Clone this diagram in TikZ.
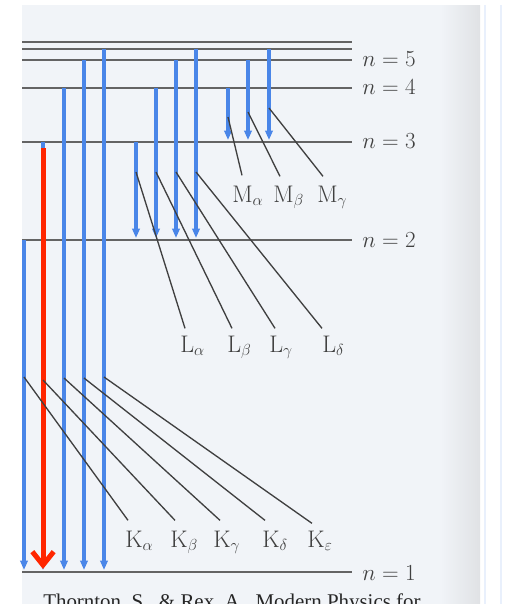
\documentclass[tikz,border=0pt]{standalone}
\usepackage{fontspec}
\usepackage{tikz}
\usetikzlibrary{positioning,calc,arrows.meta}
\newfontfamily\capfont{Liberation Serif}
\definecolor{pagebg}{RGB}{241,244,248}
\definecolor{pageedge}{RGB}{224,226,229}
\definecolor{rayblue}{RGB}{74,134,232}
\definecolor{hotred}{RGB}{255,38,0}
\definecolor{inkgray}{RGB}{64,64,64}
\definecolor{levelgray}{RGB}{100,100,100}

\tikzset{
  level/.style={levelgray,line width=1.5pt},
  xray/.style={rayblue,line width=2.4pt,-{Triangle[length=7pt,width=5.5pt]}},
  leader/.style={inkgray,line width=1pt},
  lbl/.style={inner sep=0pt,text=inkgray,font=\fontsize{18}{21}\selectfont},
}

\begin{document}
\begin{tikzpicture}[x=0.75pt,y=-0.75pt]
\useasboundingbox (0,0) rectangle (508,604);
\clip (0,0) rectangle (508,604);
% scanned page
\fill[white] (0,0) rectangle (508,604);
\fill[pagebg] (22,5) rectangle (440,604);
\shade[left color=pagebg,right color=pageedge] (440,5) rectangle (480,604);
\draw[rayblue!12,line width=1pt] (485,5) -- (485,604) (501,5) -- (501,604);

% energy levels
\foreach \y in {42,49,60,88,142,240,572}
  \draw[level] (22,\y) -- (352,\y);
\node[lbl,anchor=west] (n5) at (362,59) {$n=5$};
\node[lbl,anchor=west] (n4) at (362,87) {$n=4$};
\node[lbl,anchor=west] (n3) at (362,141) {$n=3$};
\node[lbl,anchor=west] (n2) at (362,240) {$n=2$};
\node[lbl,anchor=west] (n1) at (362,573) {$n=1$};

% transitions: name/x/upper level/lower level
\foreach \nm/\x/\ya/\yb in {ka/24/240/572,kb/43/142/572,kc/64/88/572,kd/84/60/572,ke/104/49/572,
    la/136/142/240,lb/156/88/240,lc/176/60/240,ld/196/49/240,
    ma/228/88/142,mb/248/60/142,mc/269/49/142} {
  \coordinate (\nm top) at (\x,\ya);
  \coordinate (\nm bot) at (\x,\yb-2);
  \draw[xray] (\nm top) -- (\nm bot);
}

% highlighted K line
\coordinate (hot top) at (43,148);
\coordinate (hot bot) at (43,569);
\draw[hotred,line width=3.75pt,-{Straight Barb[length=10pt,width=16pt]}] (hot top) -- (hot bot);

% line names
\node[lbl,anchor=base west] (Ma) at (232,202) {M$_\alpha$};
\node[lbl,anchor=base west] (Mb) at (273,202) {M$_\beta$};
\node[lbl,anchor=base west] (Mc) at (317,202) {M$_\gamma$};
\node[lbl,anchor=base west] (La) at (180,352) {L$_\alpha$};
\node[lbl,anchor=base west] (Lb) at (227,352) {L$_\beta$};
\node[lbl,anchor=base west] (Lc) at (269,352) {L$_\gamma$};
\node[lbl,anchor=base west] (Ld) at (322,352) {L$_\delta$};
\node[lbl,anchor=base west] (Ka) at (125,547) {K$_\alpha$};
\node[lbl,anchor=base west] (Kb) at (170,547) {K$_\beta$};
\node[lbl,anchor=base west] (Kc) at (213,547) {K$_\gamma$};
\node[lbl,anchor=base west] (Kd) at (262,547) {K$_\delta$};
\node[lbl,anchor=base west] (Ke) at (307,547) {K$_\varepsilon$};

% leaders: arrow/drop below top/label/dx/dy
\foreach \nm/\d/\lb/\dx/\dy in {ma/29/Ma/10/-10,mb/52/Mb/7/-9,mc/59/Mc/6/-9,
    la/30/La/5/-7,lb/84/Lb/5/-7,lc/112/Lc/6/-7,ld/123/Ld/0/-7,
    ka/137/Ka/3/-10,kb/238/Kb/5/-10,kc/290/Kc/7/-10,kd/318/Kd/3/-10,ke/328/Ke/5/-7}
  \draw[leader] ($(\nm top)+(0,\d)$) -- ([shift={(\dx,\dy)}]\lb.north west);

% source line, cut by the crop
\node[anchor=base west,inner sep=0pt,text=black!85,font=\capfont\fontsize{15.7}{18}\selectfont] (cite) at (43,608)
  {Thornton, S., \& Rex, A., Modern Physics for};
\end{tikzpicture}
\end{document}
